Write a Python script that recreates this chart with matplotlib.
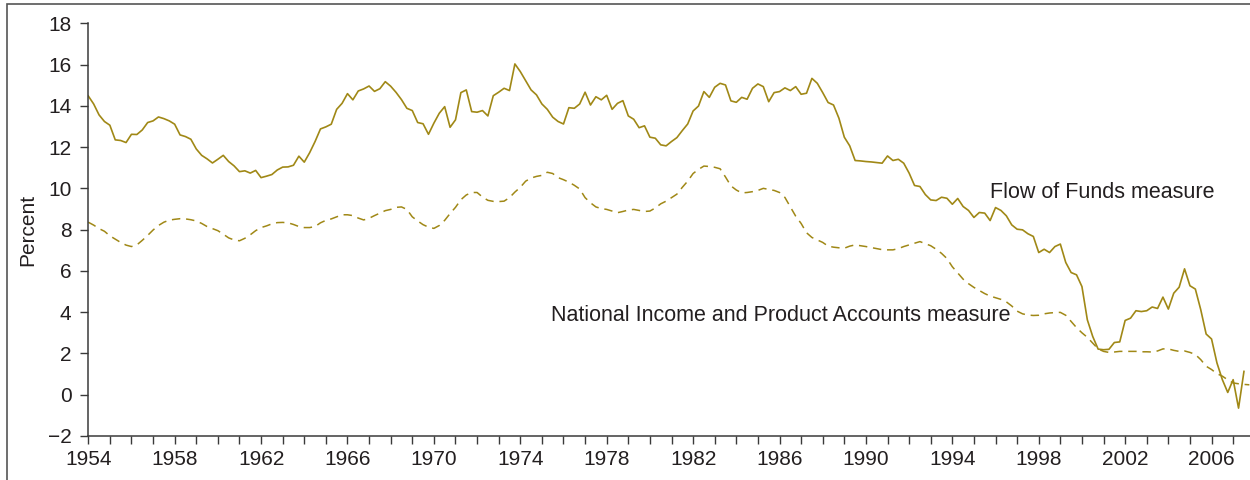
import numpy as np
import matplotlib
matplotlib.use('Agg')
from matplotlib import pyplot as plt
from matplotlib.ticker import FixedLocator, MultipleLocator
from matplotlib.patches import Rectangle

# quarterly series, first value = 1954 Q1
start_year = 1954
flow_of_funds = [
	14.48, 14.09, 13.56, 13.24,  # 1954
	13.06, 12.35, 12.32, 12.22,
	12.62, 12.61, 12.83, 13.19,
	13.27, 13.46, 13.38, 13.27,
	13.11, 12.59, 12.51, 12.38,
	11.91, 11.60, 11.43, 11.23,  # 1959
	11.41, 11.60, 11.30, 11.09,
	10.81, 10.85, 10.74, 10.87,
	10.52, 10.59, 10.67, 10.89,
	11.03, 11.04, 11.12, 11.56,
	11.27, 11.73, 12.27, 12.88,  # 1964
	12.98, 13.11, 13.83, 14.12,
	14.59, 14.29, 14.72, 14.82,
	14.96, 14.70, 14.83, 15.17,
	14.95, 14.65, 14.30, 13.88,
	13.77, 13.19, 13.13, 12.62,  # 1969
	13.16, 13.64, 13.96, 12.96,
	13.32, 14.64, 14.77, 13.72,
	13.69, 13.77, 13.51, 14.49,
	14.66, 14.85, 14.74, 16.03,
	15.66, 15.22, 14.77, 14.53,  # 1974
	14.09, 13.83, 13.45, 13.24,
	13.12, 13.91, 13.88, 14.09,
	14.66, 14.04, 14.44, 14.29,
	14.51, 13.83, 14.12, 14.25,
	13.51, 13.35, 12.94, 13.03,  # 1979
	12.48, 12.43, 12.11, 12.06,
	12.27, 12.46, 12.80, 13.12,
	13.75, 13.99, 14.69, 14.41,
	14.90, 15.09, 15.01, 14.24,
	14.17, 14.41, 14.32, 14.85,  # 1984
	15.06, 14.93, 14.20, 14.64,
	14.69, 14.87, 14.74, 14.93,
	14.56, 14.61, 15.33, 15.09,
	14.64, 14.16, 14.04, 13.40,
	12.48, 12.06, 11.35, 11.33,  # 1989
	11.30, 11.28, 11.25, 11.22,
	11.57, 11.35, 11.41, 11.22,
	10.74, 10.14, 10.09, 9.70,
	9.44, 9.41, 9.57, 9.52,
	9.23, 9.51, 9.12, 8.93,  # 1994
	8.59, 8.83, 8.80, 8.44,
	9.07, 8.93, 8.67, 8.23,
	8.02, 7.99, 7.80, 7.67,
	6.89, 7.05, 6.89, 7.18,
	7.30, 6.41, 5.92, 5.81,  # 1999
	5.24, 3.63, 2.82, 2.21,
	2.18, 2.20, 2.53, 2.56,
	3.60, 3.71, 4.07, 4.03,
	4.07, 4.25, 4.18, 4.73,
	4.15, 4.92, 5.21, 6.10,  # 2004
	5.28, 5.12, 4.12, 2.94,
	2.70, 1.54, 0.73, 0.11,
	0.73, -0.65, 1.13,
]
nipa = [
	8.36, 8.22, 8.05, 7.92,  # 1954
	7.70, 7.54, 7.38, 7.25,
	7.18, 7.26, 7.48, 7.72,
	7.98, 8.20, 8.36, 8.46,
	8.50, 8.53, 8.52, 8.48,
	8.42, 8.30, 8.15, 8.05,  # 1959
	7.95, 7.78, 7.60, 7.50,
	7.46, 7.58, 7.75, 7.95,
	8.10, 8.18, 8.28, 8.34,
	8.35, 8.33, 8.25, 8.15,
	8.10, 8.10, 8.15, 8.33,  # 1964
	8.45, 8.52, 8.62, 8.72,
	8.72, 8.68, 8.56, 8.47,
	8.55, 8.68, 8.80, 8.92,
	8.98, 9.08, 9.10, 8.98,
	8.62, 8.42, 8.24, 8.12,  # 1969
	8.06, 8.20, 8.45, 8.78,
	9.08, 9.45, 9.68, 9.80,
	9.80, 9.58, 9.42, 9.37,
	9.36, 9.38, 9.55, 9.82,
	10.05, 10.35, 10.50, 10.58,  # 1974
	10.63, 10.78, 10.72, 10.52,
	10.42, 10.30, 10.15, 9.97,
	9.55, 9.30, 9.10, 9.02,
	8.98, 8.90, 8.82, 8.88,
	8.95, 8.98, 8.93, 8.88,  # 1979
	8.90, 9.05, 9.25, 9.38,
	9.55, 9.72, 10.05, 10.35,
	10.72, 10.92, 11.08, 11.06,
	11.02, 10.95, 10.55, 10.12,
	9.92, 9.78, 9.80, 9.84,  # 1984
	9.90, 10.00, 9.95, 9.90,
	9.80, 9.56, 9.10, 8.65,
	8.30, 7.85, 7.62, 7.50,
	7.38, 7.20, 7.15, 7.12,
	7.10, 7.20, 7.26, 7.22,  # 1989
	7.18, 7.13, 7.08, 7.03,
	7.02, 7.02, 7.08, 7.18,
	7.26, 7.34, 7.42, 7.32,
	7.22, 7.05, 6.85, 6.60,
	6.20, 5.90, 5.60, 5.38,  # 1994
	5.20, 5.05, 4.90, 4.78,
	4.70, 4.62, 4.50, 4.30,
	4.05, 3.92, 3.86, 3.84,
	3.85, 3.92, 3.96, 3.98,
	3.99, 3.85, 3.55, 3.25,  # 1999
	3.00, 2.78, 2.50, 2.22,
	2.10, 2.05, 2.07, 2.10,
	2.10, 2.10, 2.10, 2.08,
	2.08, 2.07, 2.12, 2.22,
	2.22, 2.15, 2.10, 2.12,  # 2004
	2.05, 1.95, 1.70, 1.38,
	1.22, 1.02, 0.90, 0.72,
	0.57, 0.53, 0.50, 0.48,
]
year_labels = [1954, 1958, 1962, 1966, 1970, 1974, 1978, 1982, 1986, 1990, 1994, 1998, 2002, 2006]
y_ticks = [-2, 0, 2, 4, 6, 8, 10, 12, 14, 16, 18]

line_color = '#a08816'
text_color = '#231f20'
axis_color = '#3a3a3a'

plt.rcParams['font.family'] = ['Liberation Sans', 'DejaVu Sans']

fig = plt.figure(figsize=(12.5, 4.8), dpi=100)
ax = fig.add_axes([0.0706, 0.0917, 0.9294, 0.8598])

x_ff = start_year + 0.25 * np.arange(len(flow_of_funds))
x_ni = start_year + 0.25 * np.arange(len(nipa))
ax.plot(x_ff, flow_of_funds, color=line_color, lw=1.2)
ax.plot(x_ni, nipa, color=line_color, lw=1.1, dashes=(5.5, 3.8))

ax.set_xlim(1954, 2007.78)
ax.set_ylim(-2, 18)
ax.xaxis.set_major_locator(FixedLocator(year_labels))
ax.xaxis.set_minor_locator(MultipleLocator(1))
ax.yaxis.set_major_locator(FixedLocator(y_ticks))
ax.set_yticklabels([str(v).replace('-', '\u2212') for v in y_ticks])

for side in ['top', 'right']:
	ax.spines[side].set_visible(False)
for side in ['left', 'bottom']:
	ax.spines[side].set_color(axis_color)
	ax.spines[side].set_linewidth(1.1)

ax.tick_params(axis='x', which='both', direction='out', length=6, width=1, color=axis_color,
			   labelsize=15, labelcolor=text_color, pad=4)
ax.tick_params(axis='y', direction='out', length=6, width=1, color=axis_color,
			   labelsize=15, labelcolor=text_color, pad=6)

ax.set_ylabel('Percent', fontsize=15, color=text_color)
ax.yaxis.set_label_coords(-0.044, 0.5)

# series labels
ax.text(1995.75, 9.52, 'Flow of Funds measure', fontsize=15.5, color=text_color,
		ha='left', va='baseline')
ax.text(1996.67, 3.56, 'National Income and Product Accounts measure', fontsize=15.5,
		color=text_color, ha='right', va='baseline')

# thin frame around the figure (left and top edges visible)
fig.patches.append(Rectangle((0.0056, -0.05), 1.1, 1.042,
							 transform=fig.transFigure, fill=False, edgecolor='#555555', lw=1.2))

fig.savefig('out.png', dpi=100)
